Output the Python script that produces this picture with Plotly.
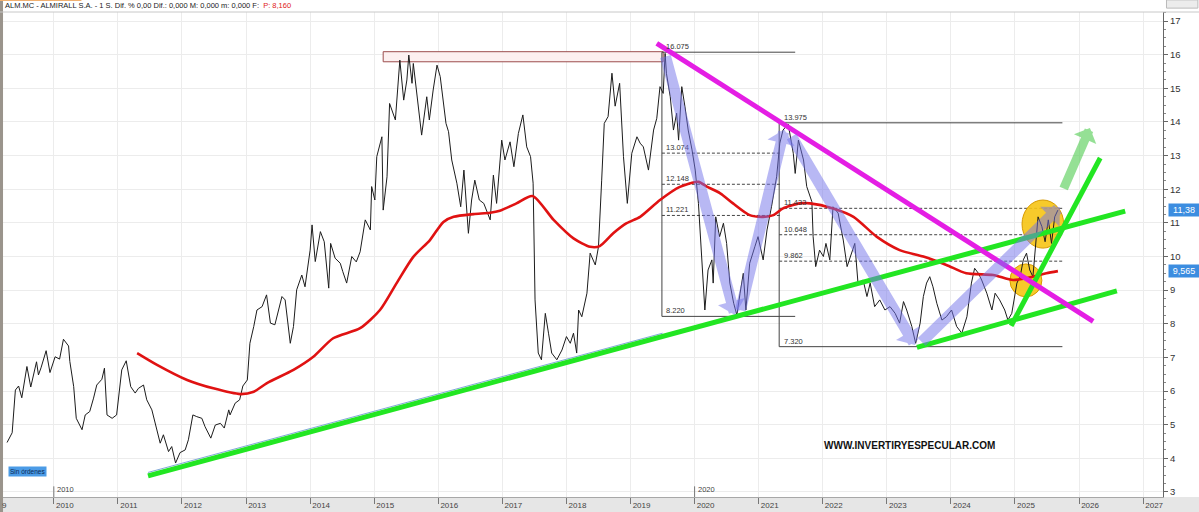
import plotly.graph_objects as go

# ---------------- data (decimal years, price in EUR) ----------------
price_t = [
    2009.27, 2009.35, 2009.40, 2009.45, 2009.50, 2009.58, 2009.64, 2009.73, 2009.76, 2009.80,
    2009.88, 2009.94, 2010.02, 2010.09, 2010.15, 2010.23, 2010.25, 2010.31, 2010.35, 2010.39,
    2010.44, 2010.49, 2010.56, 2010.62, 2010.67, 2010.75, 2010.79, 2010.83, 2010.91, 2010.98,
    2011.06, 2011.13, 2011.20, 2011.27, 2011.32, 2011.40, 2011.45, 2011.53, 2011.58, 2011.66,
    2011.71, 2011.79, 2011.84, 2011.90, 2011.97, 2012.05, 2012.10, 2012.17, 2012.23, 2012.31,
    2012.36, 2012.45, 2012.52, 2012.60, 2012.66, 2012.73, 2012.75, 2012.83, 2012.90, 2012.95,
    2013.02, 2013.06, 2013.12, 2013.17, 2013.25, 2013.32, 2013.38, 2013.45, 2013.56, 2013.61,
    2013.69, 2013.74, 2013.79, 2013.87, 2013.92, 2013.95, 2014.00, 2014.03, 2014.08, 2014.16,
    2014.22, 2014.29, 2014.32, 2014.39, 2014.47, 2014.51, 2014.57, 2014.65, 2014.72, 2014.78,
    2014.86, 2014.94, 2014.96, 2015.01, 2015.04, 2015.12, 2015.14, 2015.20, 2015.24, 2015.33,
    2015.40, 2015.46, 2015.51, 2015.54, 2015.59, 2015.61, 2015.74, 2015.82, 2015.86, 2015.92,
    2015.98, 2016.03, 2016.12, 2016.16, 2016.21, 2016.29, 2016.35, 2016.40, 2016.47, 2016.52,
    2016.57, 2016.64, 2016.71, 2016.81, 2016.86, 2016.91, 2016.99, 2017.04, 2017.12, 2017.18,
    2017.25, 2017.32, 2017.38, 2017.44, 2017.48, 2017.51, 2017.56, 2017.61, 2017.67, 2017.72,
    2017.77, 2017.85, 2017.93, 2018.00, 2018.06, 2018.11, 2018.16, 2018.19, 2018.24, 2018.32,
    2018.37, 2018.45, 2018.50, 2018.55, 2018.59, 2018.65, 2018.71, 2018.76, 2018.83, 2018.89,
    2018.95, 2019.02, 2019.10, 2019.15, 2019.20, 2019.28, 2019.36, 2019.41, 2019.46, 2019.51,
    2019.54, 2019.56, 2019.62, 2019.67, 2019.72, 2019.75, 2019.80, 2019.85, 2019.90, 2019.96,
    2020.01, 2020.06, 2020.11, 2020.16, 2020.21, 2020.27, 2020.29, 2020.33, 2020.39, 2020.45,
    2020.50, 2020.55, 2020.61, 2020.66, 2020.71, 2020.76, 2020.80, 2020.86, 2020.94, 2020.99,
    2021.07, 2021.13, 2021.20, 2021.28, 2021.33, 2021.38, 2021.46, 2021.54, 2021.57, 2021.62,
    2021.70, 2021.75, 2021.83, 2021.85, 2021.89, 2021.95, 2022.01, 2022.05, 2022.11, 2022.16,
    2022.24, 2022.32, 2022.38, 2022.45, 2022.50, 2022.55, 2022.63, 2022.69, 2022.74, 2022.81,
    2022.89, 2022.97, 2023.05, 2023.13, 2023.20, 2023.26, 2023.31, 2023.39, 2023.45, 2023.52,
    2023.57, 2023.62, 2023.67, 2023.72, 2023.78, 2023.86, 2023.93, 2024.01, 2024.09, 2024.17,
    2024.25, 2024.32, 2024.37, 2024.43, 2024.48, 2024.56, 2024.64, 2024.69, 2024.76, 2024.84,
    2024.89, 2024.95, 2025.03, 2025.08, 2025.13, 2025.18, 2025.23, 2025.28, 2025.33, 2025.36,
    2025.42, 2025.47, 2025.52, 2025.57, 2025.62, 2025.67,
]
price_v = [
    4.47, 4.76, 6.03, 6.15, 5.80, 6.73, 6.12, 6.87, 6.48, 6.69,
    7.20, 6.55, 7.02, 6.95, 7.54, 7.34, 6.88, 6.13, 5.19, 5.02,
    4.85, 5.29, 5.39, 5.79, 6.18, 6.35, 6.68, 5.29, 5.19, 5.29,
    6.63, 6.90, 6.13, 5.94, 6.08, 6.18, 5.74, 5.44, 5.09, 4.45,
    4.70, 4.20, 4.35, 3.86, 4.17, 4.25, 4.55, 5.29, 5.24, 5.19,
    4.94, 4.60, 4.99, 5.04, 4.90, 5.44, 5.29, 5.64, 5.74, 6.15,
    6.33, 7.42, 7.92, 8.41, 8.51, 8.86, 8.02, 7.97, 8.81, 8.71,
    7.42, 7.92, 9.01, 9.45, 9.10, 9.55, 10.19, 10.94, 9.85, 10.74,
    10.44, 9.06, 10.39, 9.95, 9.80, 9.55, 9.21, 10.00, 9.84, 10.14,
    11.09, 10.79, 12.08, 11.68, 12.97, 13.56, 11.38, 12.37, 14.55, 14.06,
    15.84, 14.65, 15.25, 15.99, 15.15, 15.74, 13.61, 14.75, 14.06, 14.95,
    15.69, 15.35, 13.96, 13.71, 12.87, 12.18, 11.48, 12.57, 10.69, 11.68,
    12.27, 11.68, 11.58, 11.09, 12.42, 11.58, 13.46, 12.87, 13.41, 12.67,
    13.66, 14.21, 13.26, 12.97, 12.18, 8.71, 7.13, 6.93, 8.31, 7.72,
    7.13, 6.93, 7.22, 7.62, 7.42, 7.72, 7.13, 8.41, 8.21, 8.91,
    10.10, 9.75, 10.29, 12.27, 13.96, 14.16, 15.45, 14.47, 15.15, 12.97,
    11.58, 13.07, 13.56, 13.37, 13.26, 12.57, 13.76, 14.11, 15.05, 14.85,
    16.04, 15.45, 14.75, 13.76, 14.26, 13.46, 15.05, 14.45, 13.76, 13.17,
    12.57, 11.58, 10.00, 8.41, 9.60, 9.90, 9.21, 11.18, 10.59, 10.99,
    10.39, 9.21, 8.61, 8.26, 8.91, 9.50, 8.41, 9.80, 10.29, 10.59,
    9.90, 10.79, 11.48, 12.37, 13.37, 13.76, 13.94, 13.07, 12.47, 13.46,
    12.87, 12.08, 11.63, 10.59, 9.70, 10.19, 10.00, 10.39, 9.90, 11.48,
    11.29, 10.49, 9.70, 10.10, 10.39, 9.21, 9.30, 8.81, 9.21, 8.51,
    8.71, 8.41, 8.51, 8.31, 8.02, 8.66, 8.41, 7.92, 7.42, 8.02,
    8.81, 9.21, 9.40, 9.10, 8.61, 8.11, 8.21, 8.41, 7.92, 7.72,
    8.21, 9.21, 9.65, 9.50, 9.30, 8.91, 8.41, 8.91, 8.71, 8.41,
    8.11, 8.31, 9.21, 9.40, 9.90, 10.10, 9.60, 9.40, 10.59, 11.18,
    10.89, 10.44, 11.09, 10.39, 11.18, 11.38,
]

ma_t = [
    2011.30, 2011.61, 2012.08, 2012.49, 2012.91, 2013.12, 2013.32, 2013.74, 2014.05, 2014.36,
    2014.78, 2015.09, 2015.35, 2015.61, 2015.87, 2016.08, 2016.24, 2016.55, 2016.81, 2016.96,
    2017.22, 2017.47, 2017.80, 2018.11, 2018.37, 2018.52, 2018.73, 2018.94, 2019.15, 2019.46,
    2019.77, 2020.06, 2020.19, 2020.40, 2020.60, 2020.86, 2021.07, 2021.23, 2021.38, 2021.64,
    2021.80, 2022.16, 2022.48, 2022.84, 2023.20, 2023.57, 2023.93, 2024.24, 2024.66, 2024.97,
    2025.28, 2025.49, 2025.67,
]
ma_v = [
    7.13, 6.78, 6.33, 6.08, 5.91, 5.98, 6.23, 6.63, 7.02, 7.57,
    7.87, 8.41, 9.21, 9.99, 10.49, 11.03, 11.18, 11.26, 11.30, 11.36,
    11.58, 11.80, 11.09, 10.54, 10.29, 10.31, 10.69, 10.99, 11.18, 11.68,
    12.07, 12.22, 12.08, 11.88, 11.58, 11.23, 11.18, 11.23, 11.43, 11.58,
    11.58, 11.43, 11.18, 10.59, 10.19, 10.00, 9.75, 9.50, 9.45, 9.30,
    9.40, 9.50, 9.565,
]

# trend lines: (t0, v0, t1, v1)
green_lines = [
    (2011.47, 3.48, 2026.72, 11.35),   # long-term support
    (2023.47, 7.30, 2026.59, 8.98),    # lower channel
    (2024.94, 7.94, 2026.33, 12.93),   # steep support
]
blue_companion = (2011.47, 3.58, 2019.50, 7.72)
magenta_line = (2019.41, 16.34, 2026.22, 8.07)

# zig-zag arrows (tail t, tail v, tip t, tip v)
zigzag = [
    (2019.54, 15.99, 2020.63, 8.26),
    (2020.71, 8.36, 2021.40, 13.78),
    (2021.50, 13.61, 2023.44, 7.37),
    (2023.52, 7.42, 2025.70, 11.47),
]
green_arrow = (2025.75, 11.98, 2026.17, 13.82)

# Fibonacci retracements
fib1_start, fib1_end_solid, fib1_end_dash = 2019.49, 2021.57, 2021.33
fib1_levels = [16.075, 13.074, 12.148, 11.221, 8.220]
fib1_labels = ["16.075", "13.074", "12.148", "11.221", "8.220"]
fib2_start, fib2_end = 2021.32, 2025.74
fib2_levels = [13.975, 11.433, 10.648, 9.862, 7.320]
fib2_labels = ["13.975", "11.433", "10.648", "9.862", "7.320"]

resist_box = (2015.14, 15.79, 2019.51, 16.09)
circles = [(2025.11, 10.25, 2025.76, 11.68), (2024.92, 8.80, 2025.42, 9.78)]

year_ticks = list(range(2010, 2028))
price_ticks = list(range(3, 18))
last_price, last_ma = "11,38", "9,565"

X_RANGE = [2009.16, 2027.31]
Y_RANGE = [2.85, 17.27]

# ---------------- figure ----------------
n = min(len(price_t), len(price_v))
m = min(len(ma_t), len(ma_v))
fig = go.Figure()

fig.add_trace(go.Scatter(x=price_t[:n], y=price_v[:n], mode="lines",
                         line=dict(color="#1c1c1c", width=1), hoverinfo="skip"))
fig.add_trace(go.Scatter(x=ma_t[:m], y=ma_v[:m], mode="lines",
                         line=dict(color="#e01212", width=2.6, shape="spline", smoothing=0.7),
                         hoverinfo="skip"))

t0, v0, t1, v1 = blue_companion
fig.add_trace(go.Scatter(x=[t0, t1], y=[v0, v1], mode="lines",
                         line=dict(color="#7fa8d8", width=1), hoverinfo="skip"))
for (t0, v0, t1, v1) in green_lines:
    fig.add_trace(go.Scatter(x=[t0, t1], y=[v0, v1], mode="lines",
                             line=dict(color="#22e622", width=5), hoverinfo="skip"))
t0, v0, t1, v1 = magenta_line
fig.add_trace(go.Scatter(x=[t0, t1], y=[v0, v1], mode="lines",
                         line=dict(color="#e41ee4", width=5), hoverinfo="skip"))

shapes = []
# resistance box
bx0, by0, bx1, by1 = resist_box
shapes.append(dict(type="rect", x0=bx0, x1=bx1, y0=by0, y1=by1, xref="x", yref="y",
                   line=dict(color="#9c4d4d", width=1), fillcolor="#fcf0f0", layer="between"))
# fib 1
shapes.append(dict(type="line", x0=fib1_start, x1=fib1_start, y0=fib1_levels[-1], y1=fib1_levels[0],
                   xref="x", yref="y", line=dict(color="#444", width=1), layer="between"))
for i, lv in enumerate(fib1_levels):
    solid = i in (0, len(fib1_levels) - 1)
    shapes.append(dict(type="line", x0=fib1_start, x1=fib1_end_solid if solid else fib1_end_dash,
                       y0=lv, y1=lv, xref="x", yref="y", layer="between",
                       line=dict(color="#444", width=1, dash="solid" if solid else "3px,2px")))
# fib 2
shapes.append(dict(type="line", x0=fib2_start, x1=fib2_start, y0=fib2_levels[-1], y1=fib2_levels[0],
                   xref="x", yref="y", line=dict(color="#444", width=1), layer="between"))
for i, lv in enumerate(fib2_levels):
    solid = i in (0, len(fib2_levels) - 1)
    shapes.append(dict(type="line", x0=fib2_start, x1=fib2_end, y0=lv, y1=lv, xref="x", yref="y",
                       layer="between",
                       line=dict(color="#444", width=1, dash="solid" if solid else "3px,2px")))
# yellow circles
for (cx0, cy0, cx1, cy1) in circles:
    shapes.append(dict(type="circle", x0=cx0, x1=cx1, y0=cy0, y1=cy1, xref="x", yref="y",
                       fillcolor="rgba(246,196,20,0.9)", line=dict(color="#d79a00", width=1),
                       layer="between"))
# bottom axis band, header, left border
shapes.append(dict(type="rect", xref="paper", yref="paper", x0=0, x1=1.035, y0=-0.032, y1=0,
                   fillcolor="#e6e6e6", line=dict(width=0), layer="below"))
shapes.append(dict(type="rect", xref="paper", yref="paper", x0=0, x1=0.0026, y0=-0.032, y1=1.03,
                   fillcolor="#9a948c", line=dict(width=0), layer="above"))
shapes.append(dict(type="rect", xref="paper", yref="paper", x0=0, x1=0.07, y0=1.0225, y1=1.0255,
                   fillcolor="#f0b070", line=dict(width=0), layer="above"))
shapes.append(dict(type="line", xref="paper", yref="paper", x0=0, x1=1.035, y0=1.0, y1=1.0,
                   line=dict(color="#c8c8c8", width=1), layer="above"))
shapes.append(dict(type="rect", xref="paper", yref="paper", x0=1.003, x1=1.03, y0=1.008, y1=1.025,
                   fillcolor="#ececec", line=dict(color="#bbbbbb", width=1), layer="above"))
for era in (2010, 2020):
    shapes.append(dict(type="line", xref="x", yref="paper", x0=era, x1=era, y0=0, y1=0.022,
                       line=dict(color="#777", width=1), layer="above"))

annotations = []
for lv, lab in zip(fib1_levels, fib1_labels):
    annotations.append(dict(x=fib1_start + 0.04, y=lv, xref="x", yref="y", text=lab, showarrow=False,
                            xanchor="left", yanchor="bottom", yshift=-1,
                            font=dict(family="Liberation Sans", size=7.5, color="#333")))
for lv, lab in zip(fib2_levels, fib2_labels):
    annotations.append(dict(x=fib2_start + 0.04, y=lv, xref="x", yref="y", text=lab, showarrow=False,
                            xanchor="left", yanchor="bottom", yshift=-1,
                            font=dict(family="Liberation Sans", size=7.5, color="#333")))
for (ta, va, tb, vb) in zigzag:
    annotations.append(dict(x=tb, y=vb, ax=ta, ay=va, xref="x", yref="y", axref="x", ayref="y",
                            text="", showarrow=True, arrowhead=1, arrowsize=0.42, arrowwidth=11,
                            arrowcolor="rgba(115,115,235,0.5)"))
ta, va, tb, vb = green_arrow
annotations.append(dict(x=tb, y=vb, ax=ta, ay=va, xref="x", yref="y", axref="x", ayref="y",
                        text="", showarrow=True, arrowhead=1, arrowsize=0.45, arrowwidth=9,
                        arrowcolor="rgba(80,205,80,0.6)"))
# price labels on the right axis
for val, txt in ((11.38, last_price), (9.565, last_ma)):
    annotations.append(dict(x=1, y=val, xref="paper", yref="y", text=txt, showarrow=False,
                            xanchor="left", xshift=5, width=28, align="center",
                            bgcolor="#3c8de0", font=dict(family="Liberation Sans", size=9, color="white")))
# header
annotations.append(dict(x=0.003, y=1.0124, xref="paper", yref="paper", xanchor="left", yanchor="middle",
                        showarrow=False,
                        text="ALM.MC - ALMIRALL S.A. - 1 S. Dif. % 0,00 Dif.: 0,000 M: 0,000 m: 0,000 F:  "
                             "<span style='color:#e02020'>P: 8,160</span>",
                        font=dict(family="Liberation Sans", size=7.5, color="#222")))
# watermark
annotations.append(dict(x=0.7816, y=0.107, xref="paper", yref="paper", showarrow=False,
                        xanchor="center", yanchor="middle",
                        text="<b>WWW.INVERTIRYESPECULAR.COM</b>",
                        font=dict(family="Liberation Sans", size=10, color="#111")))
# order status box
annotations.append(dict(x=0.007, y=0.041, xref="paper", yref="paper", xanchor="left", showarrow=False,
                        text="Sin órdenes", bgcolor="#4b9be6", borderpad=1,
                        font=dict(family="Liberation Sans", size=6.5, color="#0a2a55")))
# era labels
for era in (2010, 2020):
    annotations.append(dict(x=era, y=0.002, xref="x", yref="paper", xanchor="left", yanchor="bottom",
                            xshift=1, showarrow=False, text=str(era),
                            font=dict(family="Liberation Sans", size=7.5, color="#444")))
annotations.append(dict(x=0, y=-0.017, xref="paper", yref="paper", xanchor="left", yanchor="middle",
                        showarrow=False, text="9", font=dict(family="Liberation Sans", size=8, color="#444")))

fig.update_layout(
    width=1199, height=512,
    margin=dict(l=0, r=36, t=12, b=15),
    paper_bgcolor="white", plot_bgcolor="white",
    showlegend=False,
    shapes=shapes, annotations=annotations,
    xaxis=dict(range=X_RANGE, tickvals=year_ticks, ticktext=[str(y) for y in year_ticks],
               showgrid=True, gridcolor="#ececec", gridwidth=1, zeroline=False,
               showline=True, linecolor="#a8a8a8", ticks="outside", ticklen=6, tickcolor="#777",
               ticklabelshift=11, ticklabelstandoff=-6,
               tickfont=dict(family="Liberation Sans", size=8, color="#444")),
    yaxis=dict(range=Y_RANGE, side="right", tickvals=price_ticks, ticktext=[str(p) for p in price_ticks],
               showgrid=True, gridcolor="#ececec", gridwidth=1, zeroline=False,
               showline=True, linecolor="#666", ticks="outside", ticklen=4, tickcolor="#666",
               minor=dict(dtick=0.25, ticks="outside", ticklen=2, tickcolor="#888", showgrid=False),
               tickfont=dict(family="Liberation Sans", size=9.5, color="#333")),
)

fig.write_html("out.html", config={"displayModeBar": False},
               post_script="document.body.style.margin='0px';document.body.style.overflow='hidden';")
